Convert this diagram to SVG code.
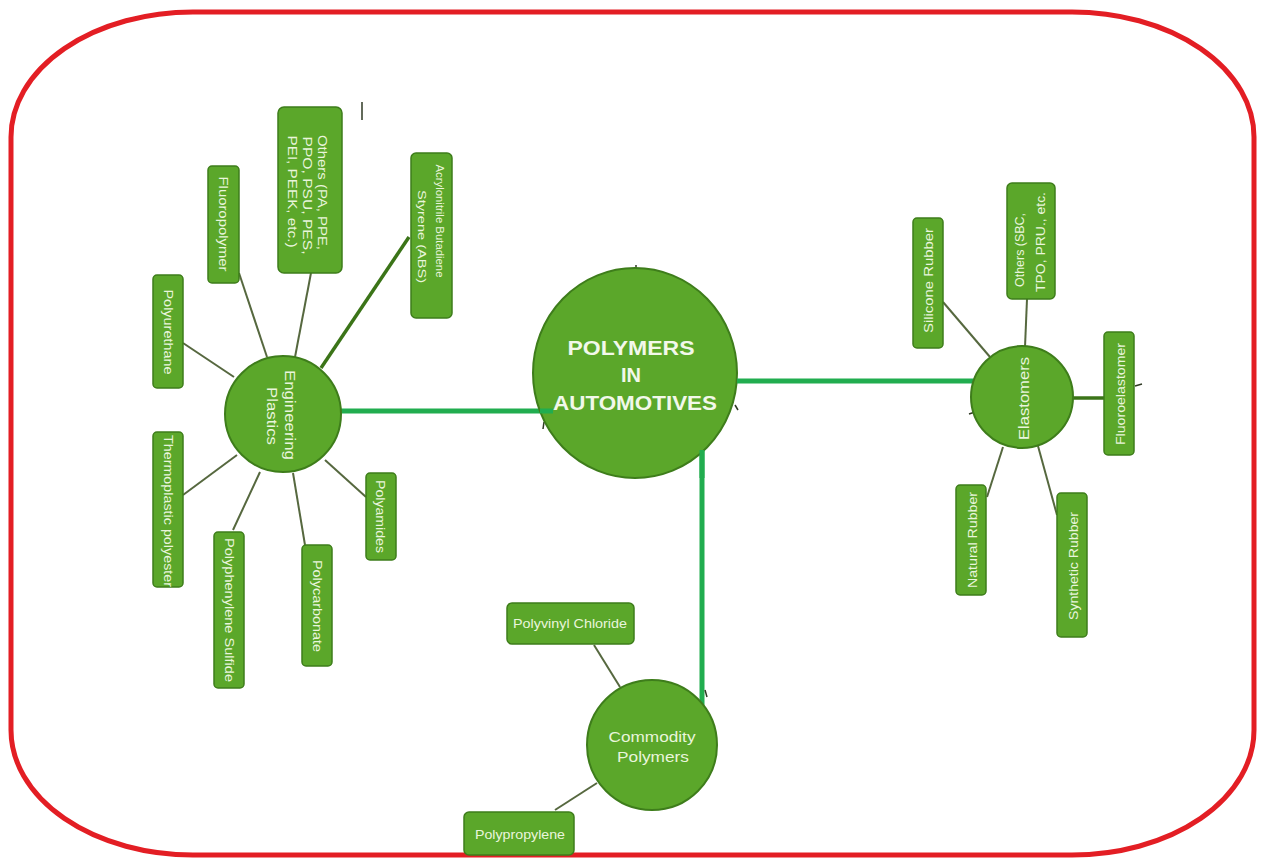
<svg xmlns="http://www.w3.org/2000/svg" width="1262" height="859" viewBox="0 0 1262 859">
<style>
.bg{fill:#ffffff}
.frame{fill:none;stroke:#e31e24;stroke-width:5}
.box{fill:#5ba72a;stroke:#3e7d1b;stroke-width:1.5}
.hub{fill:#5ba72a;stroke:#3e7d1b;stroke-width:2}
.lbl{font-family:"Liberation Sans",Arial,sans-serif;font-size:13px;fill:#e9f5dc;text-anchor:middle}
.sm{font-size:11.5px}
.hl{font-family:"Liberation Sans",Arial,sans-serif;font-size:15px;fill:#e9f5dc;text-anchor:middle}
.title{font-family:"Liberation Sans",Arial,sans-serif;font-size:20px;font-weight:bold;fill:#f2f8ea;text-anchor:middle}
.main{stroke:#21ad4f;stroke-width:5;fill:none}
.thin{stroke:#56683f;stroke-width:2;fill:none}
.thick{stroke:#3b7418;stroke-width:3.5;fill:none}
.tick{stroke:#2f3a24;stroke-width:1.5;fill:none}
</style>
<rect class="bg" x="0" y="0" width="1262" height="859"/>
<rect class="frame" x="11" y="12" width="1243" height="843" rx="182" ry="125"/>

<g id="connectors">
<line class="main" x1="341" y1="411" x2="553" y2="411"/>
<line class="main" x1="742" y1="381" x2="981" y2="381"/>
<line class="main" x1="702" y1="450" x2="702" y2="712"/>
<line class="thin" x1="183" y1="343" x2="234" y2="377"/>
<line class="thin" x1="239" y1="273" x2="267" y2="357"/>
<line class="thin" x1="311" y1="273" x2="295" y2="357"/>
<line class="thick" x1="409" y1="237" x2="321" y2="368"/>
<line class="thin" x1="183" y1="495" x2="237" y2="455"/>
<line class="thin" x1="233" y1="530" x2="260" y2="472"/>
<line class="thin" x1="293" y1="473" x2="305" y2="545"/>
<line class="thin" x1="325" y1="460" x2="366" y2="497"/>
<line class="thin" x1="943" y1="302" x2="990" y2="357"/>
<line class="thin" x1="1027" y1="299" x2="1025" y2="347"/>
<line class="thick" x1="1072" y1="398" x2="1104" y2="398"/>
<line class="thin" x1="987" y1="497" x2="1003" y2="447"/>
<line class="thin" x1="1057" y1="515" x2="1038" y2="446"/>
<line class="thin" x1="594" y1="645" x2="620" y2="687"/>
<line class="thin" x1="555" y1="810" x2="597" y2="783"/>
</g>

<g id="marks">
<line class="tick" x1="362" y1="102" x2="362" y2="120"/>
<line class="tick" x1="636" y1="265" x2="636" y2="271"/>
<line class="tick" x1="735" y1="405" x2="738" y2="410"/>
<line class="tick" x1="544" y1="422" x2="543" y2="429"/>
<line class="tick" x1="969" y1="414" x2="975" y2="412"/>
<line class="tick" x1="1135" y1="386" x2="1142" y2="384"/>
<line class="tick" x1="705" y1="690" x2="707" y2="697"/>
<circle cx="704" cy="352" r="1.2" fill="#d0202a"/>
</g>

<g id="center">
<ellipse class="hub" cx="635" cy="373" rx="102" ry="105"/>
<text class="title" x="631" y="355" textLength="127" lengthAdjust="spacingAndGlyphs">POLYMERS</text>
<text class="title" x="631" y="382">IN</text>
<text class="title" x="635" y="410" textLength="164" lengthAdjust="spacingAndGlyphs">AUTOMOTIVES</text>
</g>
<g id="line-fix">
<line class="main" x1="540" y1="411" x2="553" y2="411"/>
<line class="main" x1="737" y1="381" x2="742" y2="381"/>
<line class="main" x1="702" y1="450" x2="702" y2="478"/>
</g>

<g id="engineering-plastics">
<circle class="hub" cx="283" cy="414" r="58"/>
<text class="hl" transform="translate(284.5,415) rotate(90)" textLength="90" lengthAdjust="spacingAndGlyphs">Engineering</text>
<text class="hl" transform="translate(266.5,416) rotate(90)" textLength="58" lengthAdjust="spacingAndGlyphs">Plastics</text>
</g>
<g id="polyurethane">
<rect class="box" x="153" y="275" width="30" height="113" rx="4"/>
<text class="lbl" transform="translate(163.5,332) rotate(90)" textLength="85" lengthAdjust="spacingAndGlyphs">Polyurethane</text>
</g>
<g id="fluoropolymer">
<rect class="box" x="208" y="166" width="31" height="117" rx="4"/>
<text class="lbl" transform="translate(218.5,224) rotate(90)" textLength="95" lengthAdjust="spacingAndGlyphs">Fluoropolymer</text>
</g>
<g id="others-eng">
<rect class="box" x="278" y="107" width="64" height="166" rx="6"/>
<text class="lbl" transform="translate(317.5,192.5) rotate(90)" textLength="115" lengthAdjust="spacingAndGlyphs">Others (PA, PPE,</text>
<text class="lbl" transform="translate(302.5,195.5) rotate(90)" textLength="118" lengthAdjust="spacingAndGlyphs">PPO, PSU, PES,</text>
<text class="lbl" transform="translate(287.5,191.5) rotate(90)" textLength="112" lengthAdjust="spacingAndGlyphs">PEI, PEEK, etc.)</text>
</g>
<g id="abs">
<rect class="box" x="411" y="153" width="41" height="165" rx="5"/>
<text class="lbl sm" transform="translate(436,221) rotate(90)" textLength="113" lengthAdjust="spacingAndGlyphs">Acrylonitrile Butadiene</text>
<text class="lbl sm" transform="translate(418,236.5) rotate(90)" textLength="93" lengthAdjust="spacingAndGlyphs">Styrene (ABS)</text>
</g>
<g id="thermoplastic-polyester">
<rect class="box" x="153" y="432" width="30" height="155" rx="4"/>
<text class="lbl" transform="translate(163.5,511) rotate(90)" textLength="152" lengthAdjust="spacingAndGlyphs">Thermoplastic polyester</text>
</g>
<g id="polyphenylene-sulfide">
<rect class="box" x="214" y="532" width="30" height="156" rx="4"/>
<text class="lbl" transform="translate(224.5,610) rotate(90)" textLength="144" lengthAdjust="spacingAndGlyphs">Polyphenylene Sulfide</text>
</g>
<g id="polycarbonate">
<rect class="box" x="302" y="545" width="30" height="121" rx="4"/>
<text class="lbl" transform="translate(312.5,606) rotate(90)" textLength="92" lengthAdjust="spacingAndGlyphs">Polycarbonate</text>
</g>
<g id="polyamides">
<rect class="box" x="366" y="473" width="30" height="87" rx="4"/>
<text class="lbl" transform="translate(375.5,516.5) rotate(90)" textLength="73" lengthAdjust="spacingAndGlyphs">Polyamides</text>
</g>

<g id="elastomers">
<circle class="hub" cx="1022" cy="397" r="51"/>
<text class="hl" transform="translate(1028.5,398.5) rotate(-90)" textLength="83" lengthAdjust="spacingAndGlyphs">Elastomers</text>
</g>
<g id="silicone-rubber">
<rect class="box" x="913" y="218" width="30" height="130" rx="4"/>
<text class="lbl" transform="translate(932.5,280.5) rotate(-90)" textLength="105" lengthAdjust="spacingAndGlyphs">Silicone Rubber</text>
</g>
<g id="others-elast">
<rect class="box" x="1007" y="183" width="48" height="116" rx="5"/>
<text class="lbl" transform="translate(1023.5,250) rotate(-90)" textLength="74" lengthAdjust="spacingAndGlyphs">Others (SBC,</text>
<text class="lbl" transform="translate(1044.5,242) rotate(-90)" textLength="100" lengthAdjust="spacingAndGlyphs">TPO, PRU., etc.</text>
</g>
<g id="fluoroelastomer">
<rect class="box" x="1104" y="332" width="30" height="123" rx="4"/>
<text class="lbl" transform="translate(1124.5,394) rotate(-90)" textLength="102" lengthAdjust="spacingAndGlyphs">Fluoroelastomer</text>
</g>
<g id="natural-rubber">
<rect class="box" x="956" y="485" width="30" height="110" rx="4"/>
<text class="lbl" transform="translate(976.5,540) rotate(-90)" textLength="96" lengthAdjust="spacingAndGlyphs">Natural Rubber</text>
</g>
<g id="synthetic-rubber">
<rect class="box" x="1057" y="493" width="30" height="144" rx="4"/>
<text class="lbl" transform="translate(1077.5,566) rotate(-90)" textLength="108" lengthAdjust="spacingAndGlyphs">Synthetic Rubber</text>
</g>

<g id="commodity-polymers">
<circle class="hub" cx="652" cy="745" r="65"/>
<text class="hl" x="652" y="742" textLength="87" lengthAdjust="spacingAndGlyphs">Commodity</text>
<text class="hl" x="653" y="762" textLength="72" lengthAdjust="spacingAndGlyphs">Polymers</text>
</g>
<g id="polyvinyl-chloride">
<rect class="box" x="507" y="603" width="127" height="41" rx="5"/>
<text class="lbl" x="570" y="628" textLength="114" lengthAdjust="spacingAndGlyphs">Polyvinyl Chloride</text>
</g>
<g id="polypropylene">
<rect class="box" x="464" y="812" width="110" height="43" rx="5"/>
<text class="lbl" x="520" y="839" textLength="90" lengthAdjust="spacingAndGlyphs">Polypropylene</text>
</g>
</svg>
